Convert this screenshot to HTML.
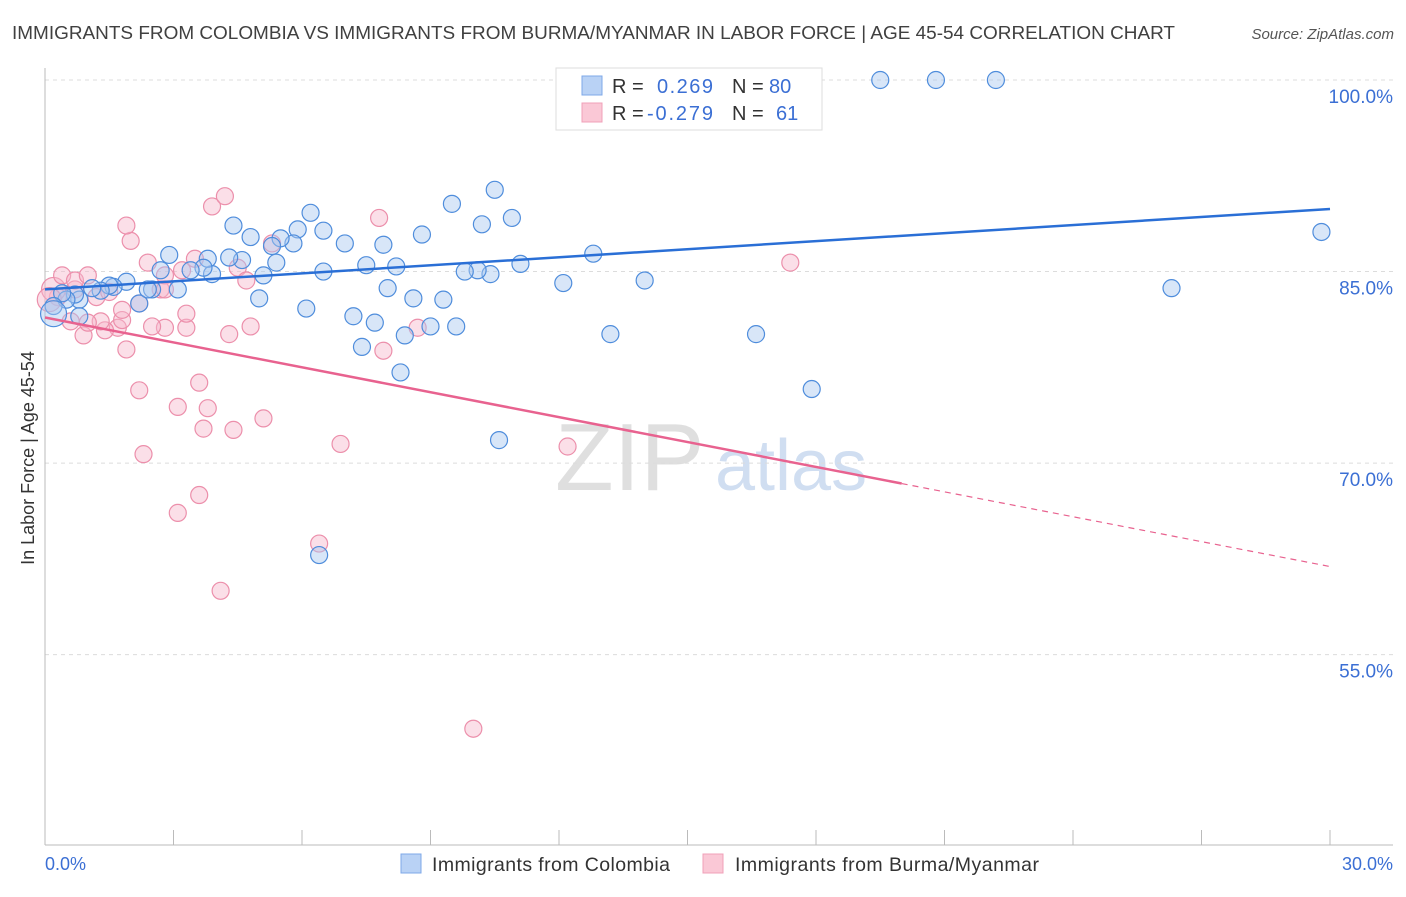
<!DOCTYPE html>
<html><head><meta charset="utf-8"><style>
body{margin:0;background:#fff;font-family:"Liberation Sans",sans-serif}
svg text{font-family:"Liberation Sans",sans-serif}
</style></head><body>
<svg id="chart" width="1406" height="892" viewBox="0 0 1406 892" xmlns="http://www.w3.org/2000/svg">
<text x="12" y="39" font-size="18.5" fill="#404040" textLength="1163" lengthAdjust="spacingAndGlyphs">IMMIGRANTS FROM COLOMBIA VS IMMIGRANTS FROM BURMA/MYANMAR IN LABOR FORCE | AGE 45-54 CORRELATION CHART</text>
<text x="1394" y="39" font-size="15" font-style="italic" fill="#555" text-anchor="end">Source: ZipAtlas.com</text>
<g>
<text x="555" y="490" font-size="96" font-family="Liberation Serif,serif" fill="#d8d8d8" opacity="0.8">ZIP</text>
<text x="715" y="490" font-size="72" fill="#c5d6ee" opacity="0.8">atlas</text>
</g>
<g id="grid"></g><g id="axes"></g><g id="pink"></g><g id="blue"></g><g id="lines"></g>
<text transform="translate(34,458) rotate(-90)" font-size="18" fill="#333" text-anchor="middle">In Labor Force | Age 45-54</text>
<text x="45" y="870" font-size="18" fill="#3b6fd4">0.0%</text>
<text x="1393" y="870" font-size="18" fill="#3b6fd4" text-anchor="end">30.0%</text>
<g>
<rect x="556" y="68" width="266" height="62" fill="#fff" stroke="#ddd"/>
<rect x="582" y="76" width="20" height="19" fill="#b9d2f5" stroke="#7ea8e8"/>
<rect x="582" y="103" width="20" height="19" fill="#fac8d6" stroke="#f0a0b8"/>
<text x="612" y="93" font-size="20" fill="#333">R =</text><text x="657" y="93" font-size="20" fill="#3b6fd4" textLength="56">0.269</text>
<text x="732" y="93" font-size="20" fill="#333">N =</text><text x="769" y="93" font-size="20" fill="#3b6fd4">80</text>
<text x="612" y="120" font-size="20" fill="#333">R =</text><text x="647" y="120" font-size="20" fill="#3b6fd4" textLength="66">-0.279</text>
<text x="732" y="120" font-size="20" fill="#333">N =</text><text x="776" y="120" font-size="20" fill="#3b6fd4">61</text>
</g>
<g>
<rect x="401" y="854" width="20" height="19" fill="#b9d2f5" stroke="#7ea8e8"/>
<text x="432" y="871" font-size="19.5" fill="#333" textLength="238">Immigrants from Colombia</text>
<rect x="703" y="854" width="20" height="19" fill="#fac8d6" stroke="#f0a0b8"/>
<text x="735" y="871" font-size="19.5" fill="#333" textLength="304">Immigrants from Burma/Myanmar</text>
</g>
</svg>
<script>
const blueX=[19.5,20.8,22.2,29.8,26.3,17.9,16.6,14.0,13.2,12.8,12.1,11.1,10.9,10.5,10.2,10.4,10.1,9.8,9.5,9.6,9.3,9.0,8.8,8.6,8.4,8.3,8.2,8.0,7.9,7.7,7.5,7.4,7.2,7.0,6.5,6.5,6.2,6.1,5.9,5.8,5.5,5.4,5.3,5.1,5.0,4.8,4.6,4.4,4.3,3.9,3.8,3.7,3.4,3.1,2.9,2.7,2.5,2.2,1.9,1.6,1.5,1.3,1.1,0.8,0.7,0.5,0.4,0.2,0.2,0.8,10.6,6.4,2.4];
const blueY=[100,100,100,88.1,83.7,75.8,80.1,84.3,80.1,86.4,84.1,85.6,89.2,91.4,88.7,84.8,85.1,85.0,90.3,80.7,82.8,80.7,87.9,82.9,80.0,77.1,85.4,83.7,87.1,81.0,85.5,79.1,81.5,87.2,85.0,88.2,89.6,82.1,88.3,87.2,87.6,85.7,87.0,84.7,82.9,87.7,85.9,88.6,86.1,84.8,86.0,85.3,85.1,83.6,86.3,85.1,83.6,82.5,84.2,83.8,83.9,83.5,83.7,82.8,83.2,82.8,83.3,82.3,81.7,81.5,71.8,62.8,83.6];
const pinkX=[10.0,4.1,6.4,3.1,3.6,2.3,6.9,12.2,3.7,4.4,5.1,3.1,3.8,3.6,2.2,1.9,7.9,0.9,4.3,4.8,2.8,2.5,3.3,1.7,1.4,3.3,1.8,1.3,1.0,0.6,8.7,2.2,1.8,1.2,0.7,0.3,0.2,0.4,0.7,1.0,2.7,2.8,3.2,3.5,2.4,4.5,4.7,2.0,1.9,3.9,4.2,5.3,7.8,17.4,0.1,2.8,1.5];
const pinkY=[49.2,60.0,63.7,66.1,67.5,70.7,71.5,71.3,72.7,72.6,73.5,74.4,74.3,76.3,75.7,78.9,78.8,80.0,80.1,80.7,80.6,80.7,80.6,80.6,80.4,81.7,81.2,81.1,81.0,81.1,80.6,82.5,82.0,83.0,83.6,83.0,83.6,84.7,84.3,84.7,83.6,84.7,85.1,86.0,85.7,85.3,84.3,87.4,88.6,90.1,90.9,87.2,89.2,85.7,82.8,83.6,83.4];
const blueTrend=[83.6,0.21];
const pinkTrend=[81.4,-0.65];
const yTicks=[100,85,70,55];
const yTickLabels=["100.0%","85.0%","70.0%","55.0%"];
const xTicks=[0,3,6,9,12,15,18,21,24,27,30];
const NS="http://www.w3.org/2000/svg";
const sx=v=>45+v/30*1285;
const sy=v=>80+(100-v)*12.77;
function mk(tag,attrs,parent){const e=document.createElementNS(NS,tag);for(const k in attrs)e.setAttribute(k,attrs[k]);document.getElementById(parent).appendChild(e);return e;}
yTicks.forEach((t,i)=>{
 const l=mk('line',{x1:45,x2:1393,y1:sy(t),y2:sy(t),stroke:'#dcdcdc','stroke-dasharray':'4,4'},'grid');
 
 
 const tx=mk('text',{x:1393,y:sy(t)+23,'font-size':19,fill:'#3b6fd4','text-anchor':'end'},'grid');
 tx.textContent=yTickLabels[i];
 
 
});
const ax=mk('line',{x1:45,x2:45,y1:68,y2:845,stroke:'#bbb'},'axes');


const bx=mk('line',{x1:45,x2:1393,y1:845,y2:845,stroke:'#bbb'},'axes');


xTicks.forEach(t=>{const l=mk('line',{x1:sx(t),x2:sx(t),y1:830,y2:845,stroke:'#bbb'},'axes');
 
 });
pinkX.forEach((x,i)=>{const c=mk('circle',{cx:sx(x),cy:sy(pinkY[i]),r:(x<0.3?12:8.5),fill:'#f7b8cb','fill-opacity':0.45,stroke:'#ec8fab','stroke-width':1.2},'pink');
 
 });
blueX.forEach((x,i)=>{const c=mk('circle',{cx:sx(x),cy:sy(blueY[i]),r:(i==68?13:8.5),fill:'#a9c8f0','fill-opacity':0.45,stroke:'#4f8ddc','stroke-width':1.2},'blue');
 
 });
const bl=mk('line',{x1:sx(0),y1:sy(blueTrend[0]),x2:sx(30),y2:sy(blueTrend[0]+blueTrend[1]*30),stroke:'#2a6fd6','stroke-width':2.5},'lines');


const pl=mk('line',{x1:sx(0),y1:sy(pinkTrend[0]),x2:sx(20),y2:sy(pinkTrend[0]+pinkTrend[1]*20),stroke:'#e8628f','stroke-width':2.5},'lines');


const pd=mk('line',{x1:sx(20),y1:sy(pinkTrend[0]+pinkTrend[1]*20),x2:sx(30),y2:sy(pinkTrend[0]+pinkTrend[1]*30),stroke:'#e8628f','stroke-width':1.2,'stroke-dasharray':'6,5'},'lines');


</script>
</body></html>
